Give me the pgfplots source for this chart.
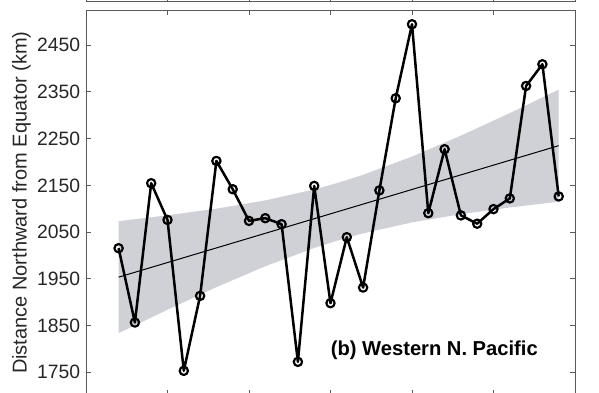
\documentclass[border=0pt]{standalone}
\usepackage{pgfplots}
\pgfplotsset{compat=1.18}
\usepackage{fontspec}
\setmainfont{Liberation Sans}
\definecolor{bandgray}{RGB}{208,209,214}
\definecolor{framegray}{RGB}{90,90,90}
\begin{document}
\begin{tikzpicture}
\begin{scope}
\clip (0pt,0pt) rectangle (359.4pt,235.8pt);
% upper panel (only its bottom edge is visible)
\begin{axis}[
  at={(51.6pt,234.8pt)}, anchor=south west,
  scale only axis, width=293.4pt, height=100pt,
  xmin=1980, xmax=2010, ymin=0, ymax=1,
  xtick={1985,1990,1995,2000,2005}, xticklabels={},
  ytick=\empty,
  axis line style={framegray, line width=0.6pt},
  major tick length=3pt,
  tick style={framegray, line width=0.6pt},
]
\addplot[draw=none] coordinates {(1990,0.5)};
\end{axis}
% main panel
\begin{axis}[
  at={(51.6pt,-1.2pt)}, anchor=south west,
  scale only axis, width=293.4pt, height=230.7pt,
  xmin=1980, xmax=2010, ymin=1701, ymax=2524.5,
  xtick={1985,1990,1995,2000,2005}, xticklabels={},
  ytick={1750,1850,1950,2050,2150,2250,2350,2450},
  yticklabel style={/pgf/number format/.cd, set thousands separator={}, assume math mode=true},
  /pgf/number format/assume math mode=true,
  tick label style={font=\fontsize{11.6pt}{13pt}\selectfont, color=black!85},
  ylabel={Distance Northward from Equator (km)},
  ylabel style={font=\fontsize{12pt}{14pt}\selectfont, color=black!85, yshift=-3pt},
  axis line style={framegray, line width=0.6pt},
  major tick length=3pt,
  tick style={framegray, line width=0.6pt},
]
% confidence band
\addplot[fill=bandgray, draw=none] coordinates {
 (1982,2073.4) (1985,2085.8) (1988,2100.1) (1991,2117.8) (1994,2141.3) (1995.5,2155.8)
 (1997,2172.6) (2000,2211.6) (2003,2256.5) (2006,2304.8) (2009,2355.0)
 (2009,2115.0) (2006,2102.6) (2003,2088.3) (2000,2070.6) (1997,2047.2) (1995.5,2032.6)
 (1994,2015.9) (1991,1976.8) (1988,1931.9) (1985,1883.6) (1982,1833.4)
} -- cycle;
% trend line
\addplot[black, line width=0.6pt] coordinates {(1982,1953.4) (2009,2235.0)};
% data
\addplot[black, line width=1.5pt, line join=round, mark=o, mark size=2.5pt, mark options={line width=1.3pt}] coordinates {
 (1982,2015.4) (1983,1856.2) (1984,2154.6) (1985,2076.0) (1986,1752.8) (1987,1913.3)
 (1988,2202.3) (1989,2141.7) (1990,2073.9) (1991,2079.7) (1992,2066.8) (1993,1772.0)
 (1994,2148.8) (1995,1897.7) (1996,2039.0) (1997,1931.1) (1998,2139.2) (1999,2336.5)
 (2000,2495.0) (2001,2090.4) (2002,2227.4) (2003,2085.7) (2004,2067.9) (2005,2099.1)
 (2006,2122.0) (2007,2362.9) (2008,2409.3) (2009,2126.3)
};
\node[anchor=base west, font=\bfseries\fontsize{12.1pt}{14pt}\selectfont, inner sep=0pt] at (axis cs:1995,1785) {(b) Western N. Pacific};
\end{axis}
\end{scope}
\pgfresetboundingbox
\path[use as bounding box] (0pt,0pt) rectangle (359.4pt,235.8pt);
\end{tikzpicture}
\end{document}
